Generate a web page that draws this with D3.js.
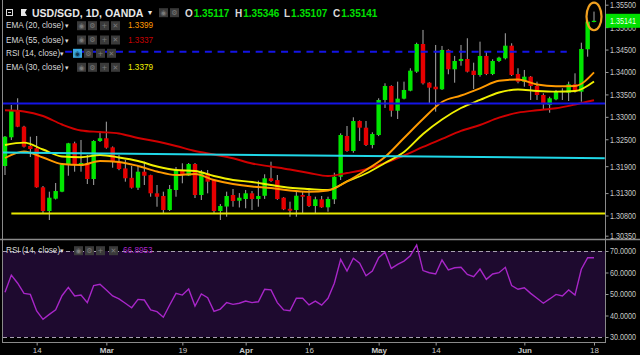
<!DOCTYPE html>
<html><head><meta charset="utf-8">
<script src="https://cdn.jsdelivr.net/npm/d3@7"></script>
<style>
html,body{margin:0;padding:0;background:#000;overflow:hidden;}
svg{display:block;font-family:"Liberation Sans",Arial,sans-serif;}
</style></head><body>
<svg id="c" width="640" height="355"></svg>
<script>
// ---------------- DATA ----------------
const firstDay = "2018-02-07", lastDay = "2018-06-18";
const opens = [1.31904,1.32544,1.33153,1.32780,1.32350,1.32299,1.31429,1.30900,1.31175,1.31331,
1.31926,1.32410,1.31926,1.31960,1.31614,1.32461,1.32522,1.32320,1.32000,1.31850,
1.31640,1.31420,1.31777,1.31700,1.31295,1.31235,1.30923,1.31369,1.31800,1.31690,
1.31948,1.31257,1.31741,1.31592,1.30900,1.31000,1.31257,1.31130,1.31168,1.31295,
1.31168,1.31240,1.31630,1.31590,1.31197,1.30950,1.30923,1.31257,1.31235,1.31012,
1.31161,1.30983,1.31161,1.31665,1.32573,1.32238,1.32907,1.32758,1.32372,1.32595,
1.33376,1.33688,1.33137,1.33405,1.33583,1.34007,1.34624,1.33761,1.33672,1.33614,
1.34491,1.34060,1.34245,1.34290,1.34029,1.33933,1.34357,1.33955,1.34245,1.34305,
1.34586,1.33955,1.33784,1.33895,1.33688,1.33487,1.33264,1.33390,1.33550,1.33538,
1.33726,1.33561,1.34506,1.35117];
const highs = [1.32573,1.33264,1.33414,1.32800,1.32557,1.32573,1.31458,1.31331,1.31525,1.31960,
1.32420,1.32446,1.32484,1.32149,1.32480,1.32684,1.32892,1.32340,1.32149,1.32038,
1.31904,1.31904,1.32000,1.31710,1.31480,1.31331,1.31480,1.31881,1.31964,1.31970,
1.31970,1.31815,1.31815,1.31600,1.31056,1.31331,1.31391,1.31300,1.31369,1.31346,
1.31576,1.31719,1.32000,1.31703,1.31210,1.31108,1.31331,1.31331,1.31369,1.31219,
1.31235,1.31219,1.31754,1.32633,1.32796,1.32990,1.32920,1.32907,1.32655,1.33414,
1.33748,1.33703,1.33784,1.33784,1.34083,1.34653,1.34937,1.33770,1.34602,1.34580,
1.34506,1.34357,1.34602,1.34752,1.34207,1.34676,1.34453,1.34283,1.34340,1.34863,
1.34640,1.34083,1.34045,1.33910,1.33784,1.33525,1.33449,1.33599,1.33637,1.33784,
1.33970,1.34653,1.35160,1.35346];
const lows = [1.31703,1.32484,1.32770,1.32316,1.32104,1.31420,1.30856,1.30700,1.31157,1.31320,
1.31687,1.31777,1.31777,1.31502,1.31480,1.32440,1.32290,1.31866,1.31810,1.31554,
1.31400,1.31369,1.31480,1.31219,1.30996,1.30849,1.30900,1.31219,1.31518,1.31680,
1.31190,1.31146,1.31295,1.30856,1.30700,1.30773,1.30996,1.30980,1.30961,1.30923,
1.30996,1.31170,1.31550,1.31150,1.30920,1.30773,1.30773,1.30849,1.30990,1.30849,
1.30970,1.30885,1.31056,1.31592,1.32220,1.32200,1.32461,1.32350,1.32298,1.32570,
1.33197,1.33003,1.32952,1.33390,1.33570,1.33980,1.33720,1.33300,1.33115,1.33600,
1.33949,1.33761,1.34140,1.33990,1.33621,1.33895,1.33930,1.33930,1.34220,1.34280,
1.33910,1.33748,1.33672,1.33376,1.33376,1.33168,1.33092,1.33370,1.33376,1.33353,
1.33540,1.33338,1.34341,1.35107];
const closes = [1.32557,1.33153,1.32780,1.32334,1.32283,1.31429,1.30900,1.31197,1.31346,1.31942,
1.32410,1.31926,1.31971,1.31614,1.32461,1.32522,1.32312,1.32000,1.31837,1.31630,
1.31420,1.31777,1.31687,1.31295,1.31219,1.30923,1.31391,1.31815,1.31703,1.31948,
1.31257,1.31741,1.31554,1.30900,1.31012,1.31235,1.31123,1.31197,1.31295,1.31168,
1.31235,1.31630,1.31569,1.31168,1.30938,1.30907,1.31241,1.31219,1.31012,1.31161,
1.30983,1.31168,1.31665,1.32595,1.32238,1.32907,1.32758,1.32372,1.32617,1.33376,
1.33688,1.33137,1.33405,1.33599,1.34029,1.34624,1.33748,1.33650,1.33614,1.34491,
1.34060,1.34245,1.34290,1.34007,1.33933,1.34357,1.33955,1.34245,1.34319,1.34586,
1.33933,1.33784,1.33895,1.33688,1.33487,1.33280,1.33414,1.33576,1.33580,1.33726,
1.33561,1.34513,1.35122,1.35141];
// EMA values read every 3rd bar (bars 0,3,6,...,93)
const ema20 = [1.32082,1.32227,1.32094,1.31949,1.31926,1.32016,1.31993,1.31904,1.31781,1.31703,
1.31726,1.31592,1.31503,1.31447,1.31414,1.31358,1.31331,1.31358,1.31559,1.31815,
1.32105,1.32528,1.32952,1.33331,1.33476,1.33637,1.33806,1.33833,1.33721,1.33681,
1.33688,1.33990];
const ema30 = [1.32372,1.32424,1.32272,1.32116,1.32098,1.32149,1.32094,1.32016,1.31893,1.31815,
1.31793,1.31681,1.31592,1.31547,1.31480,1.31420,1.31391,1.31369,1.31559,1.31737,
1.31971,1.32216,1.32618,1.32941,1.33197,1.33376,1.33543,1.33610,1.33576,1.33561,
1.33576,1.33790];
const ema55 = [1.33146,1.33119,1.33019,1.32829,1.32696,1.32662,1.32629,1.32528,1.32450,1.32350,
1.32239,1.32160,1.32076,1.31960,1.31893,1.31826,1.31748,1.31681,1.31748,1.31831,
1.31971,1.32138,1.32328,1.32506,1.32685,1.32818,1.32981,1.33093,1.33146,1.33191,
1.33275,1.33370];
const rsi = [50.8,58.8,55.0,50.3,49.8,42.1,38.2,40.5,42.6,49.2,
53.1,49.1,49.5,46.0,53.9,54.5,51.9,49.1,47.7,45.7,
43.6,47.5,47.2,42.6,41.8,39.2,44.9,50.3,49.5,52.3,
44.4,50.0,48.3,41.9,43.0,46.0,45.2,45.7,46.7,46.0,
46.4,52.2,51.9,46.0,42.6,42.2,48.0,48.0,44.9,46.7,
44.8,48.0,55.0,66.1,60.7,66.6,64.3,58.5,60.7,66.9,
69.4,61.9,63.8,65.3,67.8,72.8,60.9,59.9,59.3,65.8,
61.2,62.2,62.4,59.1,58.1,61.6,56.8,59.3,59.9,62.4,
53.9,52.2,52.9,50.3,48.0,45.7,47.7,49.8,49.1,51.9,
49.5,61.5,66.9,66.8953];
const priceTicks = [1.355,1.350,1.345,1.340,1.335,1.330,1.325,1.319,1.313,1.308,1.3035];
const rsiTicks = [30,40,50,60,70];
const tickDates = ["2018-02-14","2018-03-01","2018-03-19","2018-04-02","2018-04-16","2018-05-01","2018-05-14","2018-06-01","2018-06-18"];
const tickLabels = ["14","Mar","19","Apr","16","May","14","Jun","18"];
const resistanceLevel = 1.3330;   // blue solid
const targetLevel = 1.34453;      // blue dashed
const supportLevel = 1.30845;     // yellow
const trendLine = [1.32205, 1.32076]; // cyan, start/end
const legendEMA = [["EMA (20, close)","1.3399"],["EMA (55, close)","1.3337"],["RSI (14, close)",""],["EMA (30, close)","1.3379"]];
const ohlc = [["O","1.35117"],["H","1.35346"],["L","1.35107"],["C","1.35141"]];
const symbolTitle = "USD/SGD, 1D, OANDA";
const lastPrice = "1.35141";
const rsiLast = "66.8953";

// ---------------- CHART ----------------
const fmtD = d3.utcFormat("%Y-%m-%d");
const parse = d3.utcParse("%Y-%m-%d");
const dates = d3.utcDays(parse(firstDay), d3.utcDay.offset(parse(lastDay),1)).filter(d => d.getUTCDay()%6 !== 0);
const n = dates.length;
const bars = dates.map((d,i)=>({i, o:opens[i], h:highs[i], l:lows[i], c:closes[i]}));
const emaBars = d3.range(0, n, 3);

const svg = d3.select("#c");
const FONT = "Liberation Sans, Arial, sans-serif";
svg.append("rect").attr("width",640).attr("height",355).attr("fill","#000");

const x = d3.scaleLinear().domain([0, n-1]).range([5, 594]);
const y = d3.scaleLinear().domain([1.3035, 1.355]).range([235.7, 4.7]);
const yr = d3.scaleLinear().domain([30,70]).range([337,251]);

const defs = svg.append("defs");
defs.append("clipPath").attr("id","cm").append("rect").attr("x",3).attr("y",0).attr("width",602).attr("height",239);
defs.append("clipPath").attr("id","cr").append("rect").attr("x",3).attr("y",240).attr("width",602).attr("height",102);

const main = svg.append("g").attr("clip-path","url(#cm)");

// candles
const cg = main.append("g");
cg.selectAll("line.w").data(bars).join("line").attr("class","w")
  .attr("x1",d=>x(d.i)).attr("x2",d=>x(d.i))
  .attr("y1",d=>y(d.h)).attr("y2",d=>y(d.l))
  .attr("stroke","#a8a8a8").attr("stroke-width",1);
cg.selectAll("rect.b").data(bars).join("rect").attr("class","b")
  .attr("x",d=>x(d.i)-2.2).attr("width",4.4)
  .attr("y",d=>y(Math.max(d.o,d.c)))
  .attr("height",d=>Math.max(1.2, Math.abs(y(d.o)-y(d.c))))
  .attr("fill",d=>d.c>=d.o?"#00e600":"#e60000");

// EMAs
const lineGen = d3.line().x(d=>x(d[0])).y(d=>y(d[1])).curve(d3.curveMonotoneX);
[[ema55,"#d00000"],[ema30,"#f0f000"],[ema20,"#ff9a00"]].forEach(([arr,col])=>{
  main.append("path").datum(emaBars.map((b,k)=>[b,arr[k]]))
    .attr("d",lineGen).attr("fill","none").attr("stroke",col).attr("stroke-width",1.9);
});

// drawings
main.append("line").attr("x1",x(-1)).attr("x2",605).attr("y1",y(resistanceLevel)).attr("y2",y(resistanceLevel))
  .attr("stroke","#1414e6").attr("stroke-width",2);
main.append("line").attr("x1",x(-0.8)).attr("x2",x(94.7)).attr("y1",y(trendLine[0])).attr("y2",y(trendLine[1]))
  .attr("stroke","#20d8e8").attr("stroke-width",2);
main.append("line").attr("x1",x(1)).attr("x2",605).attr("y1",y(supportLevel)).attr("y2",y(supportLevel))
  .attr("stroke","#e8e800").attr("stroke-width",2);
main.append("line").attr("x1",x(9.5)).attr("x2",x(88.7)).attr("y1",y(targetLevel)).attr("y2",y(targetLevel))
  .attr("stroke","#1414e6").attr("stroke-width",2).attr("stroke-dasharray","7,5.7");

// highlight ellipse on the last candle
const lb = bars[n-1];
svg.append("ellipse").attr("cx",x(lb.i)).attr("cy",(y(lb.h)+y(lb.l))/2-0.5).attr("rx",7.5).attr("ry",13.8)
  .attr("fill","none").attr("stroke","#f0a020").attr("stroke-width",2.2);

// RSI pane
const rp = svg.append("g").attr("clip-path","url(#cr)");
rp.append("rect").attr("x",3).attr("width",602).attr("y",yr(70)).attr("height",yr(30)-yr(70)).attr("fill","#1e0a2f");
[70,30].forEach(v=>rp.append("line").attr("x1",3).attr("x2",605).attr("y1",yr(v)+0.5).attr("y2",yr(v)+0.5)
  .attr("stroke","#a8a0b0").attr("stroke-width",1.2).attr("stroke-dasharray","4,3"));
rp.append("path").datum(rsi.map((v,i)=>[i,v]))
  .attr("d",d3.line().x(d=>x(d[0])).y(d=>yr(d[1])))
  .attr("fill","none").attr("stroke","#a826c8").attr("stroke-width",1.4);

// frame lines
svg.append("line").attr("x1",0).attr("x2",640).attr("y1",239.5).attr("y2",239.5).attr("stroke","#8a8a8a").attr("stroke-width",1.3);
svg.append("line").attr("x1",605.5).attr("x2",605.5).attr("y1",0).attr("y2",343).attr("stroke","#8a8a8a");
svg.append("line").attr("x1",2.5).attr("x2",2.5).attr("y1",0).attr("y2",343).attr("stroke","#8a8a8a");
svg.append("line").attr("x1",2.5).attr("x2",605.5).attr("y1",342.5).attr("y2",342.5).attr("stroke","#8a8a8a");

// narrow axis labels (condensed look of the original)
function narrow(sel){
  sel.selectAll("text").attr("fill","#c8c8c8").attr("x",0)
    .attr("transform","translate(4.5,0) scale(0.8,1)");
}

// price axis
const gP = svg.append("g").attr("transform","translate(605.5,0)")
  .call(d3.axisRight(y).tickValues(priceTicks).tickFormat(d3.format(".5f")).tickSize(3).tickPadding(2));
gP.select(".domain").remove();
gP.attr("font-family",FONT).attr("font-size",9);
gP.selectAll("line").attr("stroke","#9a9a9a");
narrow(gP);

// last price tag
const tag = svg.append("g");
tag.append("rect").attr("x",606).attr("y",y(+lastPrice)-7).attr("width",34).attr("height",14).attr("fill","#00e000");
tag.append("text").attr("x",0).attr("y",0).attr("dominant-baseline","central")
  .attr("transform",`translate(610,${y(+lastPrice)}) scale(0.8,1)`)
  .attr("font-family",FONT).attr("font-size",9).attr("fill","#eaffea").text(lastPrice);

// RSI axis
const gR = svg.append("g").attr("transform","translate(605.5,0)")
  .call(d3.axisRight(yr).tickValues(rsiTicks).tickFormat(d3.format(".4f")).tickSize(3).tickPadding(2));
gR.select(".domain").remove();
gR.attr("font-family",FONT).attr("font-size",9);
gR.selectAll("line").attr("stroke","#9a9a9a");
narrow(gR);

// time axis
const tickIdx = tickDates.map(s => dates.findIndex(d => fmtD(d)===s));
const gX = svg.append("g").attr("transform","translate(0,342.5)")
  .call(d3.axisBottom(x).tickValues(tickIdx).tickFormat((d,k)=>tickLabels[k]).tickSize(3).tickPadding(2));
gX.select(".domain").remove();
gX.attr("font-family",FONT).attr("font-size",8);
gX.selectAll("line").attr("stroke","#9a9a9a");
gX.selectAll("text").attr("fill","#c8c8c8").attr("font-weight",(d,k)=>isNaN(+tickLabels[k])?"bold":"normal");

// legend
const lg = svg.append("g").attr("font-family",FONT);
function icons(xs, yc, hl){
  const glyphs = ["◉","⚙","+","✕"];
  xs.forEach((xx,k)=>{
    const on = hl && k===0;
    lg.append("rect").attr("x",xx).attr("y",yc-4.5).attr("width",9).attr("height",9)
      .attr("fill",on?"#3aa8e0":"#3a3a3a");
    lg.append("text").attr("x",xx+4.5).attr("y",yc+0.3).attr("text-anchor","middle").attr("dominant-baseline","central")
      .attr("font-size",7).attr("font-family","DejaVu Sans").attr("fill",on?"#0b3550":"#7a7a7a").text(glyphs[k]);
  });
}
// row 1
lg.append("rect").attr("x",6.5).attr("y",9.5).attr("width",6).attr("height",6).attr("fill","none").attr("stroke","#dddddd");
lg.append("line").attr("x1",8).attr("x2",11).attr("y1",12.5).attr("y2",12.5).attr("stroke","#dddddd");
lg.append("path").attr("d","M21,9 H27 L25,12.5 L27,16 H21 Z").attr("fill","#e8e8e8");
lg.append("text").attr("x",32).attr("y",12.7).attr("dominant-baseline","central").attr("font-size",10.5)
  .attr("font-weight","bold").attr("fill","#e8e8e8").text(symbolTitle);
lg.append("text").attr("x",148).attr("y",12.7).attr("dominant-baseline","central").attr("font-size",8).attr("fill","#e8e8e8").text("▾");
icons([159,170], 12.7, false);
[185,235,284,333].forEach((xx,k)=>{
  const t = lg.append("text").attr("x",xx).attr("y",12.7).attr("dominant-baseline","central").attr("font-size",10).attr("font-weight","bold");
  t.append("tspan").attr("fill","#d8d8d8").text(ohlc[k][0]);
  t.append("tspan").attr("fill","#00e000").attr("dx",1).text(ohlc[k][1]);
});
// rows 2-5
const rowY = [25.7, 40, 53.3, 67.3];
const valCol = ["#ff9a00","#c80000","","#f0f000"];
legendEMA.forEach(([lab,val],k)=>{
  const yc = rowY[k];
  lg.append("text").attr("x",6).attr("y",yc).attr("dominant-baseline","central").attr("font-size",8.2).attr("fill","#d8d8d8").text(lab);
  const isR = lab.startsWith("RSI");
  lg.append("text").attr("x",isR?60:65).attr("y",yc).attr("dominant-baseline","central").attr("font-size",7).attr("fill","#d8d8d8").text("▾");
  icons(isR?[73,84,96,107]:[77,88,100,111], yc, isR);
  if(val) lg.append("text").attr("x",128).attr("y",yc).attr("dominant-baseline","central").attr("font-size",8.2).attr("fill",valCol[k]).text(val);
});
// RSI pane legend
const ry = 250.7;
lg.append("text").attr("x",6).attr("y",ry).attr("dominant-baseline","central").attr("font-size",8.2).attr("fill","#d8d8d8").text("RSI (14, close)");
lg.append("text").attr("x",60).attr("y",ry).attr("dominant-baseline","central").attr("font-size",7).attr("fill","#d8d8d8").text("▾");
icons([74,85,96,109], ry, false);
lg.append("text").attr("x",123).attr("y",ry).attr("dominant-baseline","central").attr("font-size",8.2).attr("fill","#a826c8").text(rsiLast);
</script>
</body></html>
